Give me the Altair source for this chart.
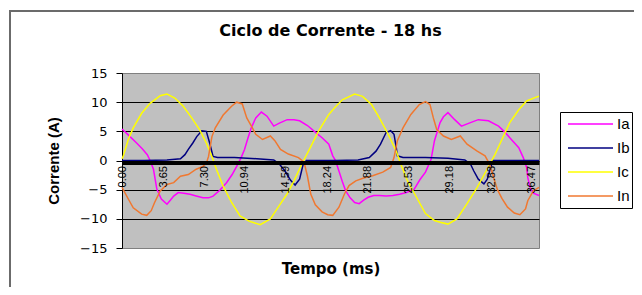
import altair as alt
import pandas as pd

# ---- data ----
series_names = ["Ia", "Ib", "Ic", "In"]
series_colors = ["#FF00FF", "#000080", "#FFFF00", "#F07830"]

t_ia = [0.0, 0.6, 1.3, 1.8, 2.25, 2.5, 2.8, 3.1, 3.5, 4.0, 4.3, 4.6, 5.0, 5.5, 6.05, 6.6, 7.2, 7.7, 8.1,
        8.7, 9.3, 9.8, 10.2, 10.6, 10.9, 11.2, 11.5, 11.9, 12.4, 12.9, 13.5, 14.0, 14.7, 15.3, 15.8, 16.5,
        17.3, 17.8, 18.4, 18.75, 19.0, 19.3, 19.6, 19.9, 20.3, 20.7, 21.1, 21.5, 21.9, 22.4, 22.9, 23.5,
        24.1, 24.7, 25.3, 26.0, 26.5, 27.0, 27.5, 27.8, 28.3, 28.6, 29.0, 29.6, 30.2, 31.0, 31.7, 32.6,
        33.5, 34.0, 34.5, 35.3, 35.7, 36.0, 36.1, 36.3, 36.6, 37.1]
v_ia = [5.4, 4.3, 3.0, 2.0, 1.0, 0.0, -1.5, -4.9, -6.6, -7.5, -6.8, -6.1, -5.5, -5.6, -5.8, -6.1, -6.4, -6.4, -6.1,
        -5.1, -3.8, -2.4, -1.0, 0.5, 1.9, 3.8, 5.6, 7.3, 8.3, 7.6, 5.9, 6.4, 7.0, 7.0, 6.8, 6.0,
        4.7, 3.9, 2.8, 0.8, 0.0, -1.8, -3.6, -5.2, -6.4, -7.2, -7.4, -6.8, -6.3, -6.0, -6.0, -6.1,
        -6.0, -5.8, -5.5, -4.9, -3.3, -2.0, 0.2, 3.4, 6.5, 7.5, 8.2, 7.0, 5.9, 6.5, 7.0, 6.8,
        5.9, 5.0, 3.9, 2.2, 0.5, -1.2, -2.9, -4.6, -5.6, -6.0]

t_ib = [0.0, 2.0, 4.0, 5.2, 5.6, 5.9, 6.3, 6.65, 7.1, 7.5, 7.8, 8.1, 8.5, 10.0, 12.0, 13.5, 14.0, 14.5, 15.0,
        15.4, 15.8, 16.1, 16.4, 19.0, 21.0, 22.0, 22.6, 23.0, 23.5, 23.9, 24.2, 24.4, 24.5, 25.0, 27.0,
        29.0, 30.5, 31.0, 31.3, 31.7, 32.2, 32.5, 32.8, 33.0, 35.0, 37.1]
v_ib = [0.0, 0.0, 0.1, 0.3, 1.0, 1.9, 3.0, 4.1, 5.1, 5.0, 3.0, 0.7, 0.5, 0.5, 0.3, 0.1, -0.6, -1.8, -3.4,
        -4.2, -3.2, -0.8, 0.0, 0.0, 0.1, 0.5, 1.6, 2.8, 4.8, 5.1, 4.5, 2.2, 0.8, 0.5, 0.5,
        0.4, 0.1, -0.6, -1.8, -3.2, -4.0, -3.2, -1.2, 0.0, 0.0, 0.0]

t_ic = [0.0, 0.1, 0.56, 1.0, 1.75, 2.5, 3.4, 4.0, 4.7, 5.45, 6.2, 6.9, 7.5, 8.0, 8.4, 9.0, 9.75, 10.5,
        11.3, 12.3, 13.2, 13.9, 14.7, 15.3, 16.0, 16.75, 17.5, 18.4, 18.9, 19.6, 20.7, 21.4, 22.2, 22.9,
        23.6, 24.4, 24.8, 25.4, 26.2, 27.0, 27.8, 28.3, 29.0, 29.8, 30.7, 31.6, 32.4, 33.2, 33.8, 34.5,
        35.3, 36.0, 36.9, 37.1]
v_ic = [0.3, 0.7, 3.6, 5.6, 8.1, 9.8, 11.1, 11.4, 10.7, 9.3, 7.3, 5.3, 3.0, 0.7, -1.5, -4.4, -7.2, -9.5,
        -10.4, -11.0, -10.0, -8.0, -5.7, -3.5, -0.6, 2.2, 5.1, 7.9, 9.0, 10.4, 11.4, 11.0, 9.6, 7.3,
        4.8, 1.6, -0.6, -3.5, -6.3, -9.1, -10.3, -10.6, -10.9, -10.0, -7.4, -4.6, -1.8, 1.1, 3.6, 6.5,
        8.7, 10.2, 10.9, 11.0]

t_in = [0.0, 0.56, 1.0, 1.75, 2.2, 2.6, 2.9, 3.4, 4.0, 4.6, 5.2, 5.9, 6.6, 7.2, 7.5, 7.7, 8.0, 8.3, 9.0,
        9.75, 10.2, 10.7, 11.1, 11.6, 11.9, 12.5, 13.2, 13.6, 14.1, 14.8, 15.7, 16.2, 16.5, 16.8, 17.2,
        17.8, 18.3, 18.75, 19.3, 19.8, 20.2, 20.8, 21.5, 22.3, 23.2, 23.9, 24.2, 24.5, 25.0, 25.7, 26.45,
        27.0, 27.4, 27.7, 28.0, 28.6, 29.3, 30.1, 30.7, 31.6, 32.3, 32.7, 33.0, 33.4, 33.8, 34.3, 34.9,
        35.4, 35.9, 36.1, 36.6, 37.1]
v_in = [-4.6, -6.6, -8.1, -9.2, -9.4, -8.6, -7.2, -5.2, -4.1, -3.8, -2.7, -2.4, -1.5, -1.0, -0.5, 0.7, 4.1, 5.6, 7.8,
        9.3, 10.0, 9.7, 7.3, 5.6, 4.5, 3.6, 4.2, 3.4, 1.9, 1.1, 0.5, -0.3, -2.7, -5.8, -7.6,
        -8.8, -9.3, -9.4, -8.0, -5.7, -4.3, -3.5, -3.0, -2.6, -2.0, -1.2, 0.5, 3.4, 5.6, 7.9, 9.6,
        10.1, 9.6, 7.3, 5.3, 4.2, 3.6, 4.2, 2.8, 1.6, 0.8, -0.6, -2.5, -5.0, -6.5, -8.0, -9.0,
        -9.3, -8.3, -6.9, -5.2, -4.6]

x_tick_values = [0.00, 3.65, 7.30, 10.94, 14.59, 18.24, 21.88, 25.53, 29.18, 32.83, 36.47]
y_tick_values = [-15, -10, -5, 0, 5, 10, 15]

rows = []
for name, ts, vs in [("Ia", t_ia, v_ia), ("Ib", t_ib, v_ib), ("Ic", t_ic, v_ic), ("In", t_in, v_in)]:
    for t, v in zip(ts, vs):
        rows.append({"serie": name, "t": t, "v": v})
df = pd.DataFrame(rows)

W, H = 417, 175

lines = alt.Chart(df).mark_line(strokeWidth=1.5).encode(
    x=alt.X("t:Q",
            scale=alt.Scale(domain=[0, 37.1], nice=False, zero=False),
            axis=alt.Axis(values=x_tick_values, format=".2f", orient="bottom", offset=-85.5,
                          labelAngle=270, labelFlush=False, labelOverlap=False,
                          labelFont="Liberation Sans", labelFontSize=11, labelColor="black",
                          labelPadding=3, ticks=False, grid=False,
                          domainColor="black", domainWidth=4, zindex=1,
                          title="Tempo (ms)", titleFont="DejaVu Sans", titleFontSize=15,
                          titleFontWeight="bold", titleColor="black",
                          titleBaseline="alphabetic", titleY=111)),
    y=alt.Y("v:Q",
            scale=alt.Scale(domain=[-15, 15], nice=False),
            axis=alt.Axis(values=y_tick_values, format="d",
                          labelFont="DejaVu Sans", labelFontSize=13, labelColor="black",
                          labelPadding=9, tickSize=6, tickColor="black",
                          domainColor="black", domainWidth=1,
                          grid=True, gridWidth=1,
                          gridColor={"condition": {"test": "abs(datum.value) >= 15", "value": "transparent"},
                                     "value": "black"},
                          zindex=0,
                          title="Corrente (A)", titleFont="Liberation Sans", titleFontSize=15,
                          titleFontWeight="bold", titleColor="black",
                          titleBaseline="middle", titleX=-69)),
    color=alt.Color("serie:N",
                    scale=alt.Scale(domain=series_names, range=series_colors),
                    legend=alt.Legend(title=None, orient="none", legendX=438, legendY=39,
                                      symbolType="stroke", symbolSize=2025, symbolStrokeWidth=1.5,
                                      clipHeight=20, rowPadding=4, padding=2, symbolOffset=5,
                                      labelOffset=3, labelFont="Liberation Sans", labelFontSize=15,
                                      labelColor="black", strokeColor="black", fillColor="white")),
)

frame = alt.Chart(alt.Data(values=[{"k": 1}])).mark_rect(
    fill="white", fillOpacity=0, stroke="#6b6b6b", strokeWidth=2
).encode(
    x=alt.value(-112), x2=alt.value(700), y=alt.value(-62), y2=alt.value(400)
)

chart = alt.layer(frame, lines).properties(
    width=W, height=H,
    title=alt.TitleParams("Ciclo de Corrente - 18 hs", font="DejaVu Sans", fontSize=16,
                          fontWeight="bold", color="black", anchor="middle", offset=0, dy=29),
    autosize=alt.AutoSizeParams(type="none"),
    padding={"left": 114, "top": 65, "right": 95, "bottom": 39},
    background="white",
).configure_view(fill="#C0C0C0", stroke="#808080", strokeWidth=1)

chart.save("out.html", embed_options={"renderer": "svg", "actions": False})
